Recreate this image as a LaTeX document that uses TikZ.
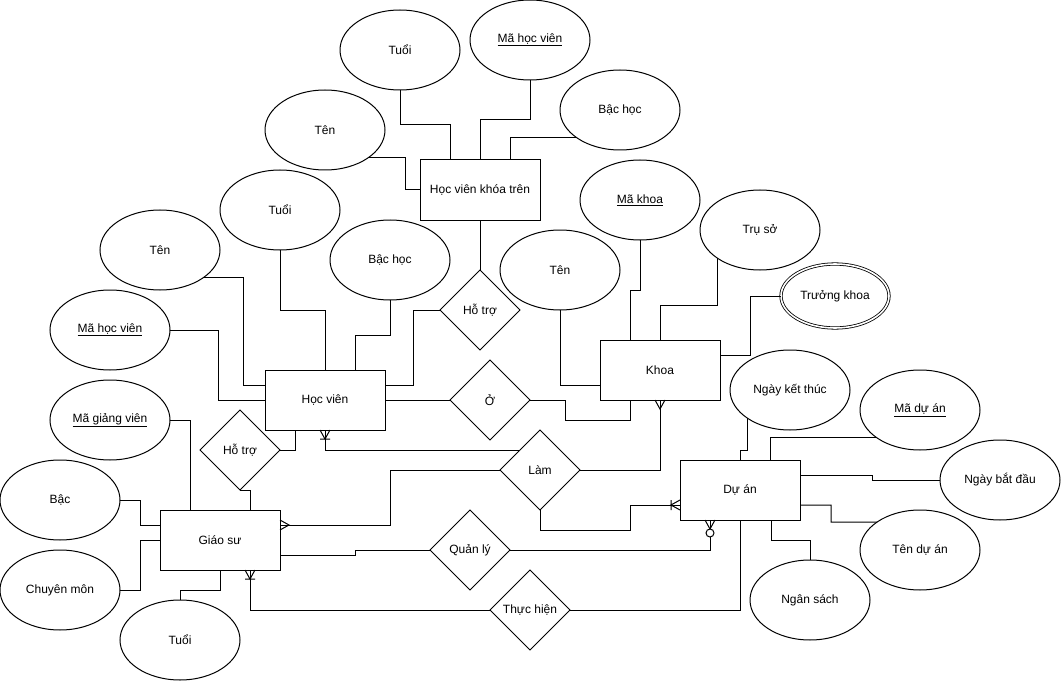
\documentclass[tikz,border=0pt]{standalone}
\usepackage{fontspec}
\setmainfont{Liberation Sans}
\usetikzlibrary{shapes.geometric}
\begin{document}
\begin{tikzpicture}[x=1pt,y=-1pt,line width=1pt,
  font=\fontsize{12}{14}\selectfont,
  entity/.style={draw,rectangle,minimum width=120pt,minimum height=60pt,inner sep=0pt,outer sep=0pt},
  attr/.style={draw,ellipse,minimum width=120pt,minimum height=80pt,inner sep=0pt,outer sep=0pt},
  multiattr/.style={draw,ellipse,double,double distance=1.6pt,line width=0.8pt,minimum width=108pt,minimum height=64pt,inner sep=0pt,outer sep=0pt},
  rel/.style={draw,diamond,minimum width=80pt,minimum height=80pt,inner sep=0pt,outer sep=0pt},
  ermany/.pic={\draw (-5,0) -- (0,9) -- (5,0);},
  eronemany/.pic={\draw (-5,0) -- (0,9) -- (5,0) (-5,9) -- (5,9);},
  erzeromany/.pic={\draw (-5,0) -- (0,9) -- (5,0); \draw[fill=white] (0,13) circle (4);}
]
\useasboundingbox (0,0) rectangle (1061,682);

% entities
\node[entity] (hvkt) at (480,190) {Học viên khóa trên};
\node[entity] (hv)   at (325,400) {Học viên};
\node[entity] (khoa) at (660,370) {Khoa};
\node[entity] (gs)   at (220,540) {Giáo sư};
\node[entity] (da)   at (740,490) {Dự án};

% attributes
\node[attr] (tuoiA)   at (400,50)  {Tuổi};
\node[attr] (mahvA)   at (530,40)  {\underline{Mã học viên}};
\node[attr] (bachocA) at (620,110) {Bậc học};
\node[attr] (tenA)    at (325,130) {Tên};
\node[attr] (tuoiB)   at (280,210) {Tuổi};
\node[attr] (bachocB) at (390,260) {Bậc học};
\node[attr] (tenB)    at (160,250) {Tên};
\node[attr] (mahvB)   at (110,330) {\underline{Mã học viên}};
\node[attr] (magv)    at (110,420) {\underline{Mã giảng viên}};
\node[attr] (bac)     at (60,500)  {Bậc};
\node[attr] (cmon)    at (60,590)  {Chuyên môn};
\node[attr] (tuoiC)   at (180,640) {Tuổi};
\node[attr] (makhoa)  at (640,200) {\underline{Mã khoa}};
\node[attr] (tenkhoa) at (560,270) {Tên};
\node[attr] (truso)   at (760,230) {Trụ sở};
\node[multiattr] (tkhoa) at (835,296) {Trưởng khoa};
\node[attr] (nkt)     at (790,390) {Ngày kết thúc};
\node[attr] (mada)    at (920,410) {\underline{Mã dự án}};
\node[attr] (nbd)     at (1000,480) {Ngày bắt đầu};
\node[attr] (tenda)   at (920,550) {Tên dự án};
\node[attr] (nsach)   at (810,600) {Ngân sách};

% relationships
\node[rel] (hotroA) at (480,310) {Hỗ trợ};
\node[rel] (o)      at (490,400) {Ở};
\node[rel] (lam)    at (540,470) {Làm};
\node[rel] (hotroB) at (240,450) {Hỗ trợ};
\node[rel] (qly)    at (470,550) {Quản lý};
\node[rel] (thien)  at (530,610) {Thực hiện};

% attributes of Học viên khóa trên
\draw (tuoiA.south) |- (450,125) -- (450,0 |- hvkt.north);
\draw (mahvA.south) |- (480,120) -- (hvkt.north);
\draw (bachocA.213) -| (510,0 |- hvkt.north);
\draw (tenA.328) -| (405,190) -- (hvkt.west);
\draw (hvkt.south) -- (hotroA.north);
\draw (hotroA.west) -| (413,385) -- (hv.east |- 0,385);

% attributes of Học viên
\draw (tuoiB.south) |- (325,310) -- (hv.north);
\draw (bachocB.south) |- (355,335) -- (355,0 |- hv.north);
\draw (tenB.327) -| (243,385) -- (hv.west |- 0,385);
\draw (mahvB.east) -| (218,400) -- (hv.west);
\draw (hv.east) -- (o.west);
\draw (hotroB.east) -| (295,0 |- hv.south);

% Làm
\draw (lam.north west) -| (hv.south);
\draw (lam.west) -| (390,525) -- (gs.east |- 0,525);
\draw (lam.east) -| (khoa.south);
\draw (lam.south) |- (630,530) |- (da.west |- 0,505);

% Ở
\draw (o.east) -| (565,420) -| (630,0 |- khoa.south);

% attributes of Khoa
\draw (makhoa.south) |- (630,290) -- (630,0 |- khoa.north);
\draw (truso.214) |- (660,305) -- (khoa.north);
\draw (tenkhoa.south) |- (khoa.west |- 0,385);
\draw (khoa.east |- 0,355) -| (750,296) -- (tkhoa.west);

% attributes of Giáo sư
\draw (magv.east) -| (190,0 |- gs.north);
\draw (hotroB.south) -| (250,0 |- gs.north);
\draw (bac.east) -| (140,525) -- (gs.west |- 0,525);
\draw (cmon.east) -| (140,540) -- (gs.west);
\draw (tuoiC.north) |- (220,590) -- (gs.south);
\draw (gs.east |- 0,555) -| (355,550) -- (qly.west);
\draw (thien.west) -| (250,0 |- gs.south);

% Dự án
\draw (qly.east) -| (710,0 |- da.south);
\draw (thien.east) -| (da.south);
\draw (nkt.214) |- (740,450) -- (da.north);
\draw (mada.212) -| (770,0 |- da.north);
\draw (da.east |- 0,475) -| (872,480) -- (nbd.west);
\draw (da.east |- 0,505) -| (831,522) -- (tenda.147);
\draw (nsach.north) |- (771,540) -- (771,0 |- da.south);

% cardinality marks
\pic at (hv.south) {eronemany};
\pic[rotate=90] at (gs.east |- 0,525) {ermany};
\pic at (khoa.south) {ermany};
\pic[rotate=-90] at (da.west |- 0,505) {eronemany};
\pic at (250,0 |- gs.south) {eronemany};
\pic at (710,0 |- da.south) {erzeromany};
\end{tikzpicture}
\end{document}
